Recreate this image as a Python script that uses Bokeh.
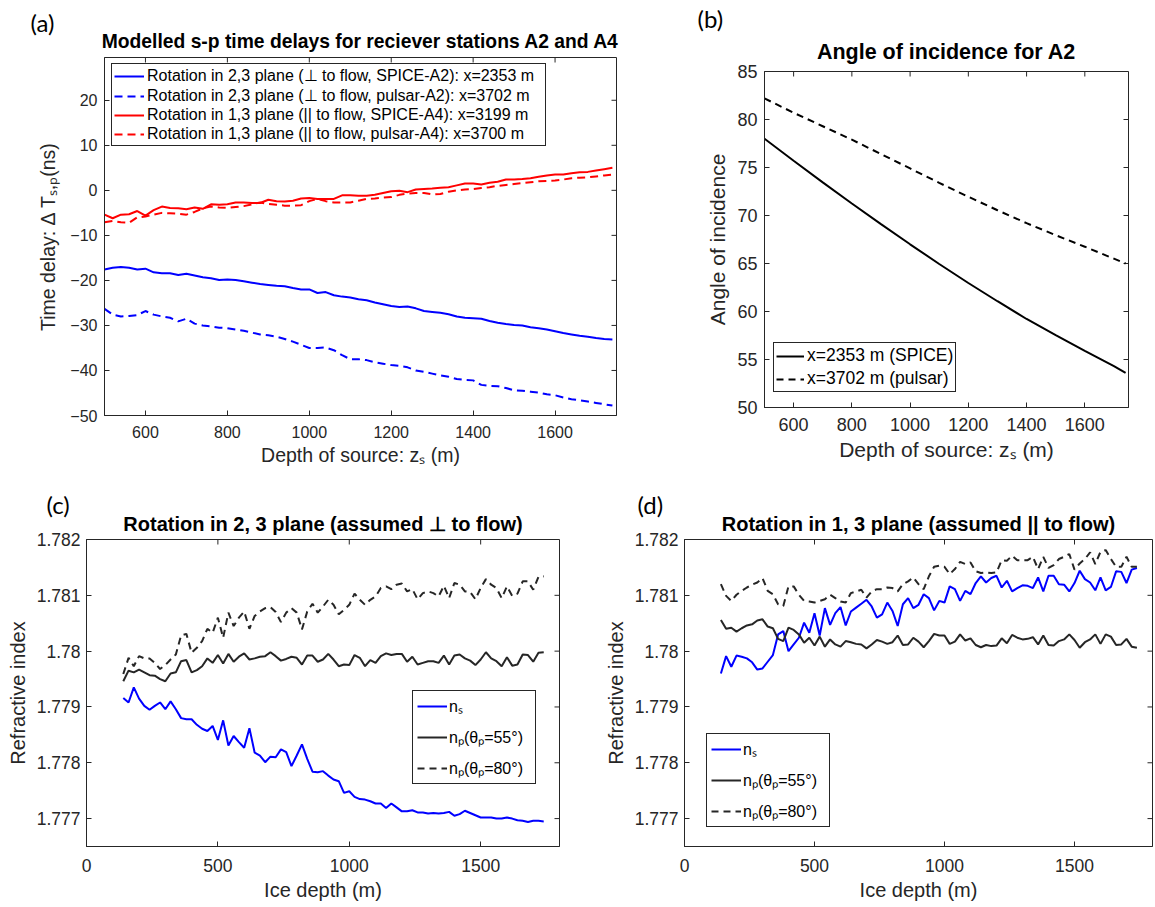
import math
from bokeh.plotting import figure
from bokeh.models import (FixedTicker, Legend, LegendItem, Title,
                          Range1d, CustomJSTickFormatter)
from bokeh.layouts import row, column
from bokeh.embed import file_html
from bokeh.resources import INLINE

# ---------------- data ----------------
# panel (a): s-p time delays (ns) vs source depth (m)
depth_a = list(range(500, 1741, 20))
a2_spice = [-17.6, -17.2, -17.0, -17.2, -17.6, -17.4, -18.2, -18.4, -18.4, -18.8,
            -18.5, -18.9, -19.3, -19.5, -19.9, -19.8, -19.9, -20.2, -20.5, -20.8,
            -21.0, -21.2, -21.3, -21.7, -22.0, -22.0, -22.8, -22.6, -23.3, -23.6,
            -23.8, -24.2, -24.4, -24.9, -25.3, -25.7, -25.9, -25.8, -26.2, -26.8,
            -27.0, -27.2, -27.5, -28.0, -28.3, -28.4, -28.5, -29.0, -29.4, -29.7,
            -29.9, -30.0, -30.4, -30.6, -30.9, -31.3, -31.7, -32.0, -32.3, -32.5,
            -32.8, -33.0, -33.1]
a2_pulsar = [-26.3, -27.6, -28.0, -27.9, -27.7, -26.8, -27.6, -28.0, -28.3, -29.1,
             -28.5, -29.6, -30.0, -30.2, -30.5, -30.6, -30.9, -31.2, -31.6, -32.0,
             -32.2, -32.5, -33.0, -33.6, -34.3, -35.0, -35.0, -34.9, -35.5, -36.6,
             -37.5, -37.5, -37.7, -38.2, -38.5, -38.8, -39.0, -39.3, -40.0, -40.3,
             -40.7, -41.1, -41.4, -41.9, -42.1, -42.2, -43.2, -43.4, -43.5, -43.9,
             -44.4, -44.5, -44.7, -44.9, -45.3, -45.5, -46.0, -46.4, -46.6, -46.9,
             -47.2, -47.5, -47.8]
a4_spice = [-5.4, -6.2, -5.4, -5.3, -4.6, -5.6, -4.4, -3.6, -3.9, -4.0,
            -4.2, -3.8, -4.1, -3.1, -3.2, -3.1, -2.7, -2.7, -2.8, -2.8,
            -2.1, -2.4, -2.5, -2.3, -1.8, -1.7, -1.9, -1.9, -1.9, -1.1,
            -1.1, -1.2, -1.2, -1.0, -0.6, -0.2, -0.1, -0.4, 0.2, 0.3,
            0.4, 0.6, 0.7, 1.1, 1.5, 1.5, 1.3, 1.7, 1.9, 2.4,
            2.4, 2.5, 2.7, 3.0, 3.3, 3.5, 3.5, 3.8, 4.0, 4.1,
            4.4, 4.7, 5.0]
a4_pulsar = [-7.1, -6.8, -7.1, -7.2, -6.0, -5.8, -5.4, -5.0, -5.1, -5.2,
             -5.4, -4.8, -4.0, -3.6, -3.8, -3.9, -3.7, -3.5, -3.1, -2.7,
             -3.0, -3.2, -3.4, -3.4, -3.3, -2.4, -1.9, -2.4, -2.7, -2.7,
             -2.7, -2.3, -1.9, -1.8, -1.6, -1.5, -1.0, -0.7, -0.6, -0.6,
             -0.9, -0.8, -0.3, 0.0, 0.2, 0.3, 0.5, 0.7, 1.0, 1.2,
             1.4, 1.6, 1.8, 2.0, 2.1, 2.2, 2.4, 2.7, 2.8, 2.9,
             3.1, 3.3, 3.5]

# panel (b): angle of incidence (deg) vs source depth (m)
depth_b = [500, 600, 700, 800, 900, 1000, 1100, 1200, 1300, 1400, 1500, 1600, 1700, 1740]
angle_spice = [78.0, 75.7, 73.45, 71.25, 69.1, 67.0, 64.95, 62.97, 61.07, 59.22,
               57.55, 55.9, 54.3, 53.6]
angle_pulsar = [82.2, 80.7, 79.3, 77.9, 76.4, 74.9, 73.4, 71.95, 70.55, 69.2,
                67.95, 66.75, 65.5, 65.0]

# panels (c) and (d): refractive index vs ice depth (m)
depth_cd = list(range(140, 1741, 20))
c_ns = [1.77916, 1.77908, 1.77935, 1.77915, 1.77902, 1.77895, 1.77902, 1.77908, 1.77896, 1.77910,
        1.77896, 1.77880, 1.77878, 1.77878, 1.77868, 1.77861, 1.77857, 1.77866, 1.77841, 1.77876,
        1.77831, 1.77848, 1.77837, 1.77827, 1.77862, 1.77818, 1.77813, 1.77801, 1.77811, 1.77810,
        1.77824, 1.77819, 1.77794, 1.77813, 1.77833, 1.77807, 1.77784, 1.77783, 1.77785, 1.77777,
        1.77770, 1.77767, 1.77746, 1.77749, 1.77739, 1.77735, 1.77734, 1.77731, 1.77727, 1.77727,
        1.77719, 1.77727, 1.77720, 1.77713, 1.77713, 1.77715, 1.77711, 1.77711, 1.77709, 1.77710,
        1.77709, 1.77710, 1.77712, 1.77705, 1.77708, 1.77714, 1.77710, 1.77706, 1.77702, 1.77702,
        1.77702, 1.77700, 1.77700, 1.77702, 1.77700, 1.77697, 1.77696, 1.77694, 1.77696, 1.77696,
        1.77695]
c_np55 = [1.77946, 1.77965, 1.77962, 1.77967, 1.77962, 1.77957, 1.77956, 1.77950, 1.77946, 1.77960,
          1.77962, 1.77982, 1.77984, 1.77962, 1.77966, 1.77973, 1.77987, 1.77979, 1.77993, 1.77978,
          1.77995, 1.77981, 1.77990, 1.77996, 1.77985, 1.77987, 1.77990, 1.77991, 1.77998, 1.77991,
          1.77983, 1.77986, 1.77990, 1.77988, 1.77976, 1.77992, 1.77992, 1.77981, 1.77985, 1.77995,
          1.77985, 1.77973, 1.77976, 1.77975, 1.77993, 1.77988, 1.77973, 1.77984, 1.77979, 1.77991,
          1.77996, 1.77993, 1.77995, 1.77995, 1.77981, 1.77990, 1.77976, 1.77979, 1.77982, 1.77982,
          1.77979, 1.77992, 1.77976, 1.77992, 1.77994, 1.77987, 1.77983, 1.77975, 1.77985, 1.77998,
          1.77987, 1.77982, 1.77973, 1.77989, 1.77974, 1.77976, 1.77994, 1.77993, 1.77981, 1.77997,
          1.77998]
c_np80 = [1.77959, 1.77988, 1.77973, 1.77991, 1.77987, 1.77987, 1.77979, 1.77968, 1.77975, 1.77985,
          1.77994, 1.78028, 1.78031, 1.77997, 1.78006, 1.78018, 1.78040, 1.78033, 1.78060, 1.78024,
          1.78069, 1.78045, 1.78060, 1.78071, 1.78040, 1.78063, 1.78071, 1.78077, 1.78079, 1.78070,
          1.78052, 1.78069, 1.78077, 1.78069, 1.78039, 1.78071, 1.78085, 1.78069, 1.78080, 1.78092,
          1.78083, 1.78066, 1.78074, 1.78083, 1.78103, 1.78092, 1.78083, 1.78092, 1.78098, 1.78113,
          1.78116, 1.78111, 1.78119, 1.78121, 1.78107, 1.78111, 1.78093, 1.78104, 1.78107, 1.78104,
          1.78098, 1.78117, 1.78095, 1.78122, 1.78119, 1.78107, 1.78106, 1.78093, 1.78113, 1.78129,
          1.78119, 1.78113, 1.78095, 1.78116, 1.78099, 1.78103, 1.78125, 1.78125, 1.78110, 1.78133,
          1.78134]
d_ns = [1.77960, 1.77991, 1.77972, 1.77992, 1.77990, 1.77987, 1.77980, 1.77967, 1.77969, 1.77981,
        1.77993, 1.78030, 1.78036, 1.78000, 1.78012, 1.78024, 1.78051, 1.78033, 1.78068, 1.78028,
        1.78077, 1.78047, 1.78068, 1.78079, 1.78046, 1.78071, 1.78078, 1.78085, 1.78092, 1.78080,
        1.78060, 1.78066, 1.78087, 1.78072, 1.78045, 1.78084, 1.78095, 1.78077, 1.78083, 1.78102,
        1.78095, 1.78073, 1.78090, 1.78087, 1.78116, 1.78111, 1.78090, 1.78108, 1.78102, 1.78122,
        1.78134, 1.78123, 1.78131, 1.78135, 1.78114, 1.78126, 1.78107, 1.78113, 1.78118, 1.78117,
        1.78113, 1.78132, 1.78107, 1.78135, 1.78135, 1.78120, 1.78119, 1.78107, 1.78122, 1.78144,
        1.78129, 1.78123, 1.78109, 1.78132, 1.78109, 1.78115, 1.78143, 1.78142, 1.78122, 1.78146,
        1.78149]
d_np55 = [1.78056, 1.78040, 1.78042, 1.78035, 1.78041, 1.78046, 1.78048, 1.78055, 1.78057, 1.78044,
          1.78041, 1.78022, 1.78018, 1.78042, 1.78038, 1.78030, 1.78015, 1.78024, 1.78010, 1.78026,
          1.78008, 1.78021, 1.78012, 1.78008, 1.78018, 1.78016, 1.78013, 1.78012, 1.78005, 1.78012,
          1.78020, 1.78017, 1.78013, 1.78016, 1.78028, 1.78011, 1.78012, 1.78024, 1.78017, 1.78007,
          1.78018, 1.78031, 1.78028, 1.78028, 1.78013, 1.78017, 1.78030, 1.78019, 1.78023, 1.78011,
          1.78007, 1.78011, 1.78009, 1.78010, 1.78023, 1.78014, 1.78029, 1.78024, 1.78021, 1.78022,
          1.78025, 1.78012, 1.78028, 1.78011, 1.78010, 1.78018, 1.78021, 1.78030, 1.78020, 1.78006,
          1.78016, 1.78021, 1.78030, 1.78013, 1.78030, 1.78026, 1.78011, 1.78012, 1.78022, 1.78008,
          1.78006]
d_np80 = [1.78120, 1.78099, 1.78090, 1.78101, 1.78108, 1.78114, 1.78119, 1.78123, 1.78131, 1.78108,
          1.78102, 1.78084, 1.78081, 1.78116, 1.78116, 1.78101, 1.78090, 1.78089, 1.78087, 1.78090,
          1.78093, 1.78101, 1.78095, 1.78089, 1.78087, 1.78104, 1.78107, 1.78110, 1.78096, 1.78107,
          1.78111, 1.78111, 1.78114, 1.78113, 1.78107, 1.78120, 1.78125, 1.78132, 1.78120, 1.78111,
          1.78134, 1.78151, 1.78153, 1.78151, 1.78138, 1.78147, 1.78160, 1.78156, 1.78159, 1.78143,
          1.78140, 1.78141, 1.78140, 1.78141, 1.78163, 1.78162, 1.78171, 1.78163, 1.78163, 1.78163,
          1.78169, 1.78147, 1.78169, 1.78149, 1.78154, 1.78165, 1.78169, 1.78174, 1.78146, 1.78157,
          1.78165, 1.78177, 1.78156, 1.78178, 1.78181, 1.78165, 1.78151, 1.78151, 1.78169, 1.78151,
          1.78151]

# tick labels / text
ticks_a_x = [600, 800, 1000, 1200, 1400, 1600]
ticks_a_y = [-50, -40, -30, -20, -10, 0, 10, 20]
ticks_b_y = [50, 55, 60, 65, 70, 75, 80, 85]
ticks_cd_x = [0, 500, 1000, 1500]
ticks_cd_y = [1.777, 1.778, 1.779, 1.78, 1.781, 1.782]

labels_a = ["Rotation in 2,3 plane (\u22a5 to flow, SPICE-A2): x=2353 m",
            "Rotation in 2,3 plane (\u22a5 to flow, pulsar-A2): x=3702 m",
            "Rotation in 1,3 plane (|| to flow, SPICE-A4): x=3199 m",
            "Rotation in 1,3 plane (|| to flow, pulsar-A4): x=3700 m"]
labels_b = ["x=2353 m (SPICE)", "x=3702 m (pulsar)"]
labels_cd = ["n\u209b", "n\u209a(\u03b8\u209a=55\u00b0)", "n\u209a(\u03b8\u209a=80\u00b0)"]

FONT = "Liberation Sans"
AX = "#262626"


def make_fig(w, h, xr, yr, borders):
    l, r, t, b = borders
    p = figure(width=w, height=h, x_range=Range1d(*xr), y_range=Range1d(*yr),
               output_backend="svg", toolbar_location=None, tools="",
               min_border_left=l, min_border_right=r, min_border_top=t,
               min_border_bottom=b, title=None)
    p.xgrid.grid_line_color = None
    p.ygrid.grid_line_color = None
    p.outline_line_color = AX
    p.outline_line_alpha = 1
    p.outline_line_width = 1
    p.background_fill_color = "white"
    p.border_fill_color = "white"
    return p


def add_titles(p, title, size, standoff, tag, tag_offset, tag_standoff):
    p.add_layout(Title(text=title, align="center", text_font=FONT, text_font_size=size,
                       text_font_style="bold", text_color="black", standoff=standoff), "above")
    p.add_layout(Title(text=tag, align="left", offset=tag_offset, text_font="Lato",
                       text_font_size="24px", text_font_style="normal", text_color="black",
                       standoff=tag_standoff), "above")


def style_axes(p, xticks, yticks, xr, yr, tick_size, label_size, xlabel, ylabel,
               xstand, ystand, xlstand, ylstand, yformatter=None):
    for ax, ticks, lab, st, lst in ((p.xaxis[0], xticks, xlabel, xstand, xlstand),
                                    (p.yaxis[0], yticks, ylabel, ystand, ylstand)):
        ax.ticker = FixedTicker(ticks=ticks)
        ax.axis_label = lab
        ax.axis_label_text_font = FONT
        ax.axis_label_text_font_size = label_size
        ax.axis_label_text_font_style = "normal"
        ax.axis_label_text_color = AX
        ax.major_label_text_font = FONT
        ax.major_label_text_font_size = tick_size
        ax.major_label_text_color = AX
        ax.axis_line_color = AX
        ax.major_tick_line_color = AX
        ax.major_tick_in = 5
        ax.major_tick_out = 0
        ax.minor_tick_line_color = None
        ax.major_label_standoff = st
        ax.axis_label_standoff = lst
    if yformatter is not None:
        p.yaxis[0].formatter = yformatter
    # inward tick marks on the top and right edges of the box
    p.ray(x=xticks, y=[yr[1]] * len(xticks), length=5, length_units="screen",
          angle=-math.pi / 2, line_color=AX, line_width=1)
    p.ray(x=[xr[1]] * len(yticks), y=yticks, length=5, length_units="screen",
          angle=math.pi, line_color=AX, line_width=1)


def add_legend(p, items, loc, size, glyph_w, glyph_h, label_h, spacing, padding,
               label_w=20, standoff=3):
    leg = Legend(items=[LegendItem(label=lab, renderers=[r]) for lab, r in items],
                 location=loc, label_text_font=FONT, label_text_font_size=size,
                 label_text_color="black", glyph_width=glyph_w, glyph_height=glyph_h,
                 label_height=label_h, label_width=label_w, spacing=spacing,
                 padding=padding, margin=0, label_standoff=standoff,
                 border_line_color=AX, border_line_width=1, border_line_alpha=1,
                 background_fill_color="white", background_fill_alpha=1)
    p.add_layout(leg)


# ---------------- panel (a) ----------------
xr_a, yr_a = (500, 1750), (-50, 29.5)
pa = make_fig(650, 476, xr_a, yr_a, (104, 34, 57, 61))
add_titles(pa, "Modelled s-p time delays for reciever stations A2 and A4", "19.3px", 12,
           "(a)", -74, -28)
style_axes(pa, ticks_a_x, ticks_a_y, xr_a, yr_a, "16px", "19.5px",
           "Depth of source: z\u209b (m)", "Time delay: \u0394 T\u209b,\u209a(ns)",
           10, 7, 3, 8)
ra1 = pa.line(depth_a, a2_spice, line_color="blue", line_width=2)
ra2 = pa.line(depth_a, a2_pulsar, line_color="blue", line_width=2, line_dash="8 5")
ra3 = pa.line(depth_a, a4_spice, line_color="red", line_width=2)
ra4 = pa.line(depth_a, a4_pulsar, line_color="red", line_width=2, line_dash="8 5")
add_legend(pa, list(zip(labels_a, [ra1, ra2, ra3, ra4])), (7, 269), "16px",
           30, 18, 18, 1, 2, label_w=396, standoff=3)

# ---------------- panel (b) ----------------
xr_b, yr_b = (500, 1750), (50, 85)
pb = make_fig(500, 476, xr_b, yr_b, (114, 22, 71, 69))
add_titles(pb, "Angle of incidence for A2", "21.5px", 16, "(b)", -67, -7)
style_axes(pb, ticks_a_x, ticks_b_y, xr_b, yr_b, "18px", "21px",
           "Depth of source: z\u209b (m)", "Angle of incidence", 10, 7, 4, 5)
rb1 = pb.line(depth_b, angle_spice, line_color="black", line_width=2)
rb2 = pb.line(depth_b, angle_pulsar, line_color="black", line_width=2, line_dash="7 5")
add_legend(pb, list(zip(labels_b, [rb1, rb2])), (9, 15), "17.5px",
           28, 20, 20, 2, 2, label_w=20, standoff=3)

# ---------------- panel (c) ----------------
xr_cd, yr_cd = (0, 1800), (1.7765, 1.782)
yfmt = CustomJSTickFormatter(code="return tick.toFixed(3).replace(/0+$/, '');")
pc = make_fig(600, 431, xr_cd, yr_cd, (86, 41, 63, 61))
add_titles(pc, "Rotation in 2, 3 plane (assumed \u22a5 to flow)", "20px", 9, "(c)", -40, -24)
style_axes(pc, ticks_cd_x, ticks_cd_y, xr_cd, yr_cd, "17.5px", "20px",
           "Ice depth (m)", "Refractive index", 12, 6, 4, 5, yformatter=yfmt)
rc1 = pc.line(depth_cd, c_ns, line_color="blue", line_width=2)
rc2 = pc.line(depth_cd, c_np55, line_color=AX, line_width=2)
rc3 = pc.line(depth_cd, c_np80, line_color=AX, line_width=2, line_dash="7 5")
add_legend(pc, list(zip(labels_cd, [rc1, rc2, rc3])), (326, 62), "16px",
           30, 22, 22, 9, 4, label_w=82, standoff=2)

# ---------------- panel (d) ----------------
yfmt2 = CustomJSTickFormatter(code="return tick.toFixed(3).replace(/0+$/, '');")
pd_ = make_fig(554, 431, xr_cd, yr_cd, (84, 2, 63, 61))
add_titles(pd_, "Rotation in 1, 3 plane (assumed || to flow)", "20px", 9, "(d)", -47, -24)
style_axes(pd_, ticks_cd_x, ticks_cd_y, xr_cd, yr_cd, "17.5px", "20px",
           "Ice depth (m)", "Refractive index", 12, 6, 4, 5, yformatter=yfmt2)
rd1 = pd_.line(depth_cd, d_ns, line_color="blue", line_width=2)
rd2 = pd_.line(depth_cd, d_np55, line_color=AX, line_width=2)
rd3 = pd_.line(depth_cd, d_np80, line_color=AX, line_width=2, line_dash="7 5")
add_legend(pd_, list(zip(labels_cd, [rd1, rd2, rd3])), (22, 19), "16px",
           30, 22, 22, 9, 4, label_w=82, standoff=2)

layout = column(row(column(pa), column(pb)), row(column(pc), column(pd_)))
open("out.html", "w").write(file_html(layout, INLINE))
